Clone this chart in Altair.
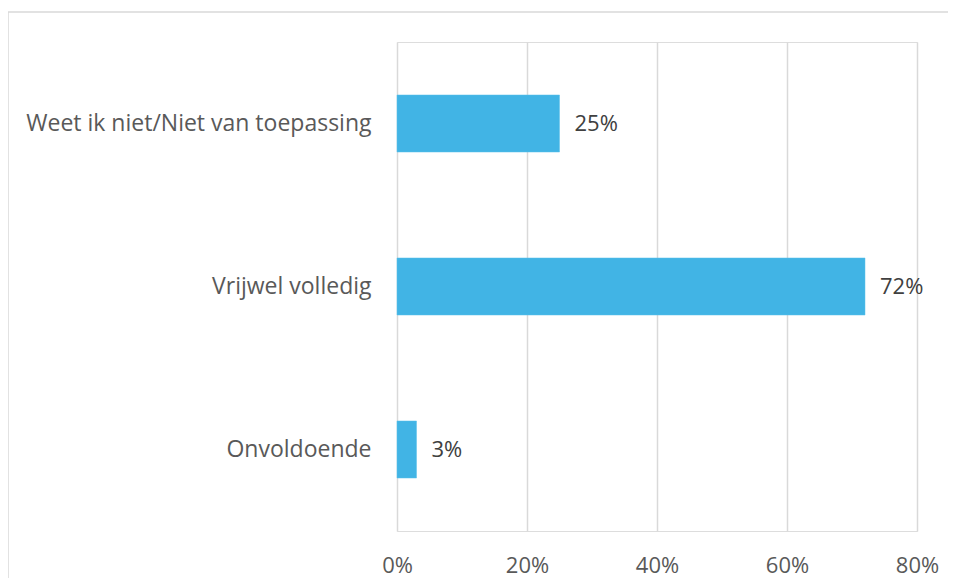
import altair as alt
import pandas as pd

categories = ["Weet ik niet/Niet van toepassing", "Vrijwel volledig", "Onvoldoende"]
values = [0.25, 0.72, 0.03]
x_ticks = [0, 0.2, 0.4, 0.6, 0.8]

df = pd.DataFrame({"cat": categories, "val": values})

FONT = "Open Sans"
W, H = 520, 489

base = alt.Chart(df)

bars = base.mark_bar(color="#41B4E5", stroke="#5BC0EA", strokeWidth=0.5).encode(
    x=alt.X("val:Q", scale=alt.Scale(domain=[0, 0.8], nice=False),
            axis=alt.Axis(values=x_ticks, format=".0%", title=None, domain=False,
                          ticks=False, grid=True, gridColor="#D9D9D9", gridWidth=1.5,
                          labelFont=FONT, labelFontSize=22, labelColor="#595959",
                          labelPadding=24, labelFlush=False)),
    y=alt.Y("cat:N", sort=categories,
            scale=alt.Scale(paddingInner=0.65, paddingOuter=0.325),
            axis=alt.Axis(title=None, domain=False, ticks=False, grid=False,
                          labelFont=FONT, labelFontSize=23, labelColor="#595959",
                          labelPadding=26, labelLimit=400)),
)

labels = base.mark_text(align="left", baseline="middle", dx=15, font=FONT,
                        fontSize=22, color="#404040").encode(
    x="val:Q",
    y=alt.Y("cat:N", sort=categories),
    text=alt.Text("val:Q", format=".0%"),
)

top_line = alt.Chart(pd.DataFrame({"a": [0]})).mark_rule(color="#D9D9D9", strokeWidth=1.5).encode(
    x=alt.value(-389), x2=alt.value(560), y=alt.value(-30)
)
left_line = alt.Chart(pd.DataFrame({"a": [0]})).mark_rule(color="#D9D9D9", strokeWidth=1.5).encode(
    x=alt.value(-389), y=alt.value(-30), y2=alt.value(545)
)

chart = alt.layer(bars, labels, top_line, left_line).properties(
    width=W, height=H,
    autosize=alt.AutoSizeParams(type="none"),
    padding={"left": 389, "top": 34, "right": 31, "bottom": 47},
).configure_view(stroke=None).configure(background="white")

chart.save("out.html", embed_options={"renderer": "svg", "actions": False})
